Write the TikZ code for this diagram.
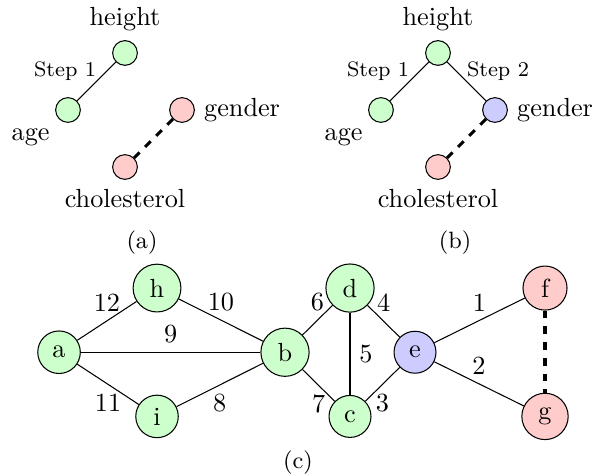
\documentclass[tikz,border=0pt]{standalone}
\usetikzlibrary{positioning}

\begin{document}
\begin{tikzpicture}[
    feat/.style={circle, draw, inner sep=3.33pt},
    vertex/.style={circle, draw, inner sep=3.33pt, minimum size=16pt},
    tree/.style={fill=green!20},
    front/.style={fill=blue!20},
    tied/.style={fill=red!20},
    steplabel/.style={font=\footnotesize, inner sep=0pt},
    cut/.style={very thick, dashed},
    subcap/.style={font=\small}
]
\useasboundingbox (0,0) rectangle (8.08,-6.378);
% (a)
\node[feat, tree, label=above:height] (ha) at (1.675,-0.71) {};
\node[feat, tree, label=below left:age] (aa) at (0.911,-1.474) {};
\node[feat, tied, label=right:gender] (ga) at (2.439,-1.474) {};
\node[feat, tied, label=below:cholesterol] (ca) at (1.675,-2.238) {};
\draw (ha) -- node[steplabel, above left] {Step 1} (aa);
\draw[cut] (ga) -- (ca);
\node[subcap] (capa) at (1.903,-3.256) {(a)};
% (b)
\node[feat, tree, label=above:height] (hb) at (5.869,-0.71) {};
\node[feat, tree, label=below left:age] (ab) at (5.105,-1.474) {};
\node[feat, front, label=right:gender] (gb) at (6.633,-1.474) {};
\node[feat, tied, label=below:cholesterol] (cb) at (5.869,-2.238) {};
\draw (hb) -- node[steplabel, above left] {Step 1} (ab);
\draw (hb) -- node[steplabel, above right] {Step 2} (gb);
\draw[cut] (gb) -- (cb);
\node[subcap] (capb) at (6.097,-3.256) {(b)};
% (c)
\node[vertex, tree] (a) at (0.791,-4.72) {a};
\node[vertex, tree] (h) at (2.104,-3.86) {h};
\node[vertex, tree] (i) at (2.104,-5.58) {i};
\node[vertex, tree] (b) at (3.819,-4.72) {b};
\node[vertex, tree] (d) at (4.69,-3.86) {d};
\node[vertex, tree] (c) at (4.69,-5.58) {c};
\node[vertex, front] (e) at (5.561,-4.72) {e};
\node[vertex, tied] (f) at (7.303,-3.86) {f};
\node[vertex, tied] (g) at (7.303,-5.58) {g};
\draw (a) -- node[above] {12} (h);
\draw (h) -- node[above] {10} (b);
\draw (a) -- node[above] {9} (b);
\draw (a) -- node[below] {11} (i);
\draw (i) -- node[below] {8} (b);
\draw (b) -- node[above] {6} (d);
\draw (d) -- node[above] {4} (e);
\draw (d) -- node[right] {5} (c);
\draw (b) -- node[below] {7} (c);
\draw (c) -- node[below] {3} (e);
\draw (e) -- node[above] {1} (f);
\draw (e) -- node[above] {2} (g);
\draw[cut] (f) -- (g);
\node[subcap] (capc) at (3.993,-6.204) {(c)};
\end{tikzpicture}
\end{document}
